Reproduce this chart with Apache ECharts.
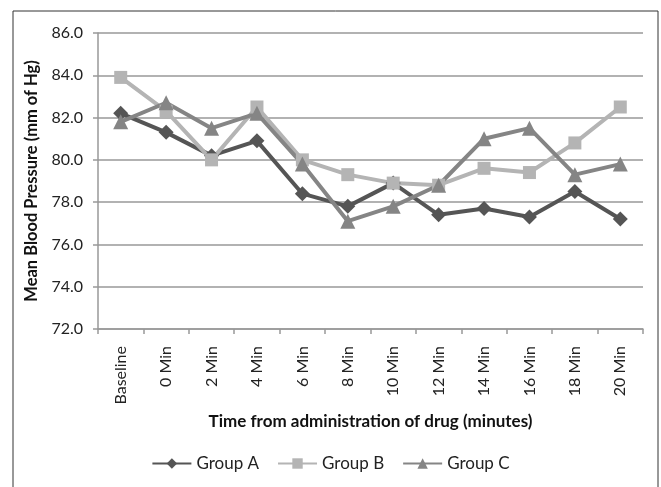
<!DOCTYPE html>
<html><head><meta charset="utf-8">
<script src="https://cdn.jsdelivr.net/npm/echarts@6/dist/echarts.min.js"></script>
<style>html,body{margin:0;padding:0;background:#fff}#c{width:661px;height:487px}</style>
</head><body><div id="c"></div>
<script>
var categories = ['Baseline','0 Min','2 Min','4 Min','6 Min','8 Min','10 Min','12 Min','14 Min','16 Min','18 Min','20 Min'];
var groupA = [82.2,81.3,80.2,80.9,78.4,77.8,78.9,77.4,77.7,77.3,78.5,77.2];
var groupB = [83.9,82.3,80.0,82.5,80.0,79.3,78.9,78.8,79.6,79.4,80.8,82.5];
var groupC = [81.8,82.7,81.5,82.2,79.8,77.1,77.8,78.8,81.0,81.5,79.3,79.8];
var seriesNames = ['Group A','Group B','Group C'];

var FONT = 'Lato';
var chart = echarts.init(document.getElementById('c'), null, {renderer:'canvas'});
function mk(name, data, color, symbol, size){
  return {name:name, type:'line', data:data, symbol:symbol, symbolSize:size,
    lineStyle:{color:color, width:4}, itemStyle:{color:color}, z: 2};
}
chart.setOption({
  animation:false,
  textStyle:{fontFamily:FONT},
  graphic:[{type:'rect', shape:{x:13,y:11,width:645,height:490}, style:{fill:'none', stroke:'#333', lineWidth:1}, silent:true}],
  grid:{left:98, right:18, top:33, bottom:158},
  legend:{bottom:10, left:'center', itemWidth:39, itemHeight:13, itemGap:18,
    textStyle:{fontFamily:FONT, fontSize:17, color:'#222'}, data:seriesNames},
  xAxis:{type:'category', data:categories, boundaryGap:true,
    name:'Time from administration of drug (minutes)', nameLocation:'middle', nameGap:84,
    nameTextStyle:{fontFamily:FONT, fontSize:17, fontWeight:'bold', color:'#111'},
    axisLine:{lineStyle:{color:'#999', width:1.5}},
    axisTick:{show:true, length:5, lineStyle:{color:'#999', width:1.5}},
    axisLabel:{rotate:90, fontFamily:FONT, fontSize:16, color:'#222', margin:17, interval:0}},
  yAxis:{type:'value', min:72, max:86, interval:2,
    name:'Mean Blood Pressure (mm of Hg)', nameLocation:'middle', nameGap:55,
    nameTextStyle:{fontFamily:FONT, fontSize:16.5, fontWeight:'bold', color:'#111'},
    axisLine:{show:true, lineStyle:{color:'#999', width:1.5}},
    axisTick:{show:true, length:5, lineStyle:{color:'#999', width:1.5}},
    splitLine:{lineStyle:{color:'#999', width:1.5}},
    axisLabel:{fontFamily:FONT, fontSize:16, color:'#222', margin:15, formatter:function(v){return v.toFixed(1);}}},
  series:[
    mk('Group A', groupA, '#555555', 'diamond', 15),
    mk('Group B', groupB, '#b4b4b4', 'rect', 13),
    mk('Group C', groupC, '#858585', 'triangle', 15)
  ]
});
</script></body></html>
